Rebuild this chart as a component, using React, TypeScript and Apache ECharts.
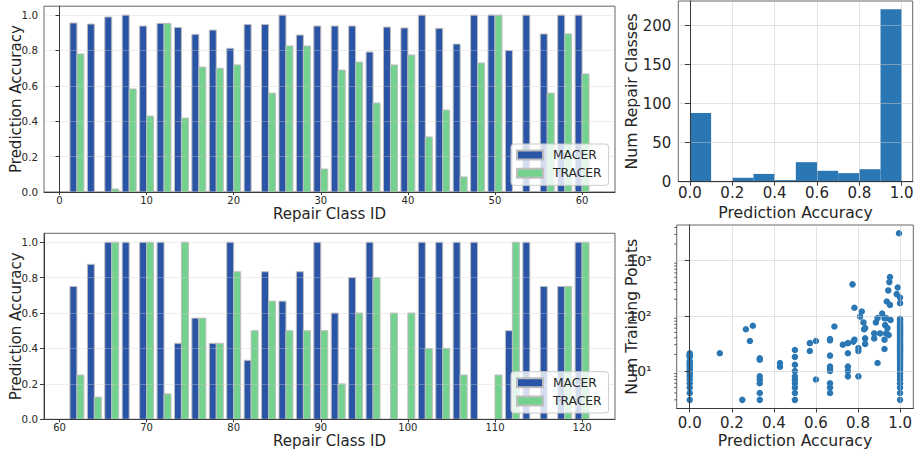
import React, { useEffect, useRef } from 'react';
import * as echarts from 'echarts';

// ---------- data ----------
const topClassIds = [2, 4, 6, 8, 10, 12, 14, 16, 18, 20, 22, 24, 26, 28, 30, 32, 34, 36, 38, 40, 42, 44, 46, 48, 50, 52, 54, 56, 58, 60];
const topMacer = [0.955, 0.949, 0.989, 1.0, 0.938, 0.953, 0.93, 0.891, 0.915, 0.812, 0.947, 0.947, 1.0, 0.887, 0.938, 0.938, 0.938, 0.791, 0.932, 0.927, 1.0, 0.925, 0.836, 1.0, 1.0, 0.8, 1.0, 0.893, 1.0, 1.0];
const topTracer = [0.78, 0, 0.017, 0.582, 0.429, 0.953, 0.418, 0.706, 0.699, 0.718, 0, 0.559, 0.825, 0.825, 0.13, 0.689, 0.734, 0.503, 0.718, 0.774, 0.311, 0.463, 0.085, 0.729, 1.0, 0, 0, 0.559, 0.893, 0.667];

const bottomClassIds = [62, 64, 66, 68, 70, 72, 74, 76, 78, 80, 82, 84, 86, 88, 90, 92, 94, 96, 98, 100, 102, 104, 106, 108, 110, 112, 114, 116, 118, 120];
const bottomMacer = [0.75, 0.875, 1, 1, 1, 1, 0.429, 0.571, 0.429, 1, 0.333, 0.833, 0.667, 0.833, 1, 0.6, 0.8, 1, 0, 0, 1, 1, 1, 1, 0, 0.5, 1, 0.75, 0.75, 1];
const bottomTracer = [0.25, 0.125, 1, 0, 1, 0.143, 1, 0.571, 0.429, 0.833, 0.5, 0.667, 0.5, 0.5, 0.5, 0.2, 0.6, 0.8, 0.6, 0.6, 0.4, 0.4, 0.25, 0, 0.25, 1, 0, 0, 0.75, 1];

const topXTicks = [0, 10, 20, 30, 40, 50, 60];
const bottomXTicks = [60, 70, 80, 90, 100, 110, 120];
const accTicks = [0, 0.2, 0.4, 0.6, 0.8, 1.0];
const countTicks = [0, 50, 100, 150, 200];
const logTicks = [10, 100, 1000];
const minorLogTicks = [3, 4, 5, 6, 7, 8, 9, 20, 30, 40, 50, 60, 70, 80, 90, 200, 300, 400, 500, 600, 700, 800, 900, 2000, 3000, 4000];

const histBinLo = [0, 0.1, 0.2, 0.3, 0.4, 0.5, 0.6, 0.7, 0.8, 0.9];
const histBinHi = [0.1, 0.2, 0.3, 0.4, 0.5, 0.6, 0.7, 0.8, 0.9, 1.0];
const histCounts = [88, 1, 5, 10, 2, 25, 14, 11, 16, 221];

const scatterZero = [3, 4, 5, 6, 7, 8, 9, 10, 11, 12, 13, 14, 15, 18, 19, 20, 21];
const scatterOne = [3, 4, 5, 6, 7, 8, 9, 10, 11, 12, 13, 14, 15, 16, 17, 18, 19, 20, 21, 22, 23, 24, 25, 26, 27, 28, 29, 30, 32, 34, 36, 38, 40, 42, 44, 46, 48, 50, 52, 55, 58, 60, 63, 66, 70, 75, 80, 85, 88, 170, 215];
const scatterMid: [number, number][] = [
  [0.143, 21], [0.25, 3], [0.267, 57], [0.286, 35], [0.3, 66],
  [0.333, 3], [0.333, 4], [0.333, 6], [0.333, 7], [0.333, 8], [0.333, 16], [0.333, 17],
  [0.429, 12], [0.429, 14],
  [0.5, 3], [0.5, 4], [0.5, 5], [0.5, 6], [0.5, 7], [0.5, 8], [0.5, 10], [0.5, 13], [0.5, 18], [0.5, 24],
  [0.571, 23], [0.571, 32], [0.6, 7], [0.6, 35],
  [0.667, 4], [0.667, 5], [0.667, 6], [0.667, 10], [0.667, 11], [0.667, 12], [0.667, 19], [0.667, 36], [0.667, 38],
  [0.688, 64], [0.728, 30],
  [0.752, 8], [0.752, 10], [0.752, 12], [0.752, 21], [0.752, 32],
  [0.774, 372], [0.778, 34], [0.783, 37], [0.783, 140],
  [0.802, 8], [0.802, 23], [0.802, 26], [0.81, 97], [0.818, 120], [0.826, 76], [0.829, 57],
  [0.834, 31], [0.834, 39], [0.834, 60],
  [0.877, 39], [0.877, 48], [0.885, 76], [0.893, 14], [0.893, 91], [0.905, 48], [0.915, 110],
  [0.926, 25], [0.926, 37], [0.926, 91], [0.929, 68], [0.934, 48], [0.934, 91], [0.937, 182],
  [0.94, 60], [0.944, 289], [0.946, 45], [0.949, 409], [0.952, 158], [0.952, 505], [0.955, 84],
  [0.984, 248], [0.989, 327], [0.995, 3140],
];

// ---------- styles ----------
const FONT = 'DejaVu Sans';
const TXT = '#262626';
const SPINE = '#3a3a3a';
const BORDER = '#666666';
const BLUE = '#2a54a6';
const GREEN = '#74d28f';
const EDGE = '#bdbdbd';
const HIST = '#2a77b4';
const GRID_L = 'rgba(205,205,205,0.35)';
const GRID_R = 'rgba(200,200,200,0.5)';
const BAR_W = 0.8;

const barItem = (side: number, fill: string) => (_p: any, api: any) => {
  const x = api.value(0);
  const v = api.value(1);
  if (!v) return { type: 'group', children: [] };
  const x0 = side < 0 ? x - BAR_W : x;
  const x1 = side < 0 ? x : x + BAR_W;
  const a = api.coord([x0, v]);
  const b = api.coord([x1, 0]);
  return {
    type: 'rect',
    shape: { x: a[0], y: a[1], width: b[0] - a[0], height: b[1] - a[1] },
    style: { fill, stroke: EDGE, lineWidth: 1 },
  };
};

const histItem = (_p: any, api: any) => {
  const a = api.coord([api.value(0), api.value(2)]);
  const b = api.coord([api.value(1), 0]);
  return {
    type: 'rect',
    shape: { x: a[0], y: a[1], width: b[0] - a[0], height: b[1] - a[1] },
    style: { fill: HIST },
  };
};

const SCATTER_XMIN = -0.062;
const minorTickItem = (_p: any, api: any) => {
  const p = api.coord([SCATTER_XMIN, api.value(1)]);
  return {
    type: 'line',
    shape: { x1: p[0] - 2.5, y1: p[1], x2: p[0], y2: p[1] },
    style: { stroke: SPINE, lineWidth: 0.8 },
  };
};

const supers: Record<string, string> = { '1': '¹', '2': '²', '3': '³' };

function leftX(grid: number, min: number, max: number, ticks: number[]) {
  return {
    type: 'value', gridIndex: grid, min, max, z: 5,
    axisLine: { show: true, onZero: false, lineStyle: { color: SPINE, width: 1 } },
    axisTick: { show: true, length: 3, customValues: ticks, lineStyle: { color: SPINE } },
    axisLabel: { customValues: ticks, fontSize: 10, lineHeight: 10, color: TXT, fontFamily: FONT, margin: 3.5 },
    splitLine: { show: false },
    name: 'Repair Class ID', nameLocation: 'middle', nameGap: 14.5, nameMoveOverlap: false,
    nameTextStyle: { fontSize: 15, lineHeight: 15, color: TXT, fontFamily: FONT },
  };
}

function leftY(grid: number) {
  return {
    type: 'value', gridIndex: grid, min: 0, max: 1.05, z: 5,
    axisLine: { show: true, lineStyle: { color: SPINE, width: 1 } },
    axisTick: { show: true, length: 4, customValues: accTicks, lineStyle: { color: SPINE } },
    axisLabel: { customValues: accTicks, formatter: (v: number) => v.toFixed(1), fontSize: 10.3, color: TXT, fontFamily: FONT, margin: 6 },
    splitLine: { show: true, lineStyle: { color: GRID_L, width: 1 } },
    name: 'Prediction Accuracy', nameLocation: 'middle', nameRotate: 90, nameGap: 21, nameMoveOverlap: false,
    nameTextStyle: { fontSize: 15, color: TXT, fontFamily: FONT },
  };
}

function accX(grid: number, min: number, max: number, margin: number, nameGap: number) {
  return {
    type: 'value', gridIndex: grid, min, max, z: 5,
    axisLine: { show: true, onZero: false, lineStyle: { color: SPINE, width: 1 } },
    axisTick: { show: true, length: 4, customValues: accTicks, lineStyle: { color: SPINE } },
    axisLabel: { customValues: accTicks, formatter: (v: number) => v.toFixed(1), fontSize: 15, color: TXT, fontFamily: FONT, margin },
    splitLine: { show: true, lineStyle: { color: GRID_R, width: 1 } },
    name: 'Prediction Accuracy', nameLocation: 'middle', nameGap, nameMoveOverlap: false,
    nameTextStyle: { fontSize: 15.7, color: TXT, fontFamily: FONT },
  };
}

function legendFor(top: number) {
  return {
    data: ['MACER', 'TRACER'], orient: 'vertical', left: 511, top,
    icon: 'rect', itemWidth: 26, itemHeight: 9, itemGap: 4.3,
    padding: [4, 7, 5, 5], selectedMode: false, z: 10,
    backgroundColor: 'rgba(255,255,255,0.8)', borderColor: '#cccccc', borderWidth: 1, borderRadius: 3,
    textStyle: { fontSize: 12.3, color: TXT, fontFamily: FONT, lineHeight: 14, padding: [0, 0, 0, 5] },
  };
}

export default function App() {
  const ref = useRef<HTMLDivElement>(null);
  useEffect(() => {
    if (!ref.current) return;
    const chart = echarts.init(ref.current, undefined, { renderer: 'svg' });
    const zip = (a: number[], b: number[]) => a.map((x, i) => [x, b[i]]);
    const scatterData = [
      ...scatterZero.map((c) => [0, c]),
      ...scatterMid,
      ...scatterOne.map((c) => [1, c]),
    ];
    chart.setOption({
      animation: false,
      textStyle: { fontFamily: FONT },
      grid: [
        { left: 42.3, top: 6.2, width: 572.7, height: 185.8, show: true, borderColor: BORDER, borderWidth: 1 },
        { left: 42.3, top: 233.3, width: 572.7, height: 186, show: true, borderColor: BORDER, borderWidth: 1 },
        { left: 678.3, top: 1, width: 234.4, height: 180.7, show: true, borderColor: BORDER, borderWidth: 1 },
        { left: 676.7, top: 225, width: 236.6, height: 183.5, show: true, borderColor: BORDER, borderWidth: 1 },
      ],
      xAxis: [
        leftX(0, -1.78, 63.78, topXTicks),
        leftX(1, 58.22, 123.78, bottomXTicks),
        accX(2, -0.055, 1.052, 4, 23),
        accX(3, SCATTER_XMIN, 1.063, 6.5, 23.6),
      ],
      yAxis: [
        leftY(0),
        leftY(1),
        {
          type: 'value', gridIndex: 2, min: 0, max: 231.7, interval: 50, z: 5,
          axisLine: { show: true, lineStyle: { color: SPINE, width: 1 } },
          axisTick: { show: true, length: 5, customValues: countTicks, lineStyle: { color: SPINE } },
          axisLabel: { customValues: countTicks, fontSize: 15, color: TXT, fontFamily: FONT, margin: 7 },
          splitLine: { show: true, lineStyle: { color: GRID_R, width: 1 } },
          name: 'Num Repair Classes', nameLocation: 'middle', nameRotate: 90, nameGap: 38.7, nameMoveOverlap: false,
          nameTextStyle: { fontSize: 15.7, color: TXT, fontFamily: FONT },
        },
        {
          type: 'log', logBase: 10, gridIndex: 3, min: 2.09, max: 4436, z: 5,
          axisLine: { show: true, lineStyle: { color: SPINE, width: 1 } },
          axisTick: { show: true, length: 5, customValues: logTicks, lineStyle: { color: SPINE } },
          axisLabel: {
            customValues: logTicks, fontSize: 14, color: TXT, fontFamily: FONT, margin: 25,
            formatter: (v: number) => {
              const e = Math.round(Math.log10(v));
              return '10' + (supers[String(e)] || '');
            },
          },
          splitLine: { show: true, lineStyle: { color: GRID_R, width: 1 } },
          name: 'Num Training Points', nameLocation: 'middle', nameRotate: 90, nameGap: 37, nameMoveOverlap: false,
          nameTextStyle: { fontSize: 15.7, color: TXT, fontFamily: FONT },
        },
      ],
      legend: [legendFor(144), legendFor(371.7)],
      series: [
        {
          name: 'MACER', type: 'custom', xAxisIndex: 0, yAxisIndex: 0, data: zip(topClassIds, topMacer),
          renderItem: barItem(-1, BLUE), encode: { x: 0, y: 1 },
          itemStyle: { color: BLUE, borderColor: EDGE, borderWidth: 1 },
        },
        {
          name: 'TRACER', type: 'custom', xAxisIndex: 0, yAxisIndex: 0, data: zip(topClassIds, topTracer),
          renderItem: barItem(1, GREEN), encode: { x: 0, y: 1 },
          itemStyle: { color: GREEN, borderColor: EDGE, borderWidth: 1 },
        },
        {
          name: 'MACER', type: 'custom', xAxisIndex: 1, yAxisIndex: 1, data: zip(bottomClassIds, bottomMacer),
          renderItem: barItem(-1, BLUE), encode: { x: 0, y: 1 },
          itemStyle: { color: BLUE, borderColor: EDGE, borderWidth: 1 },
        },
        {
          name: 'TRACER', type: 'custom', xAxisIndex: 1, yAxisIndex: 1, data: zip(bottomClassIds, bottomTracer),
          renderItem: barItem(1, GREEN), encode: { x: 0, y: 1 },
          itemStyle: { color: GREEN, borderColor: EDGE, borderWidth: 1 },
        },
        {
          name: 'hist', type: 'custom', xAxisIndex: 2, yAxisIndex: 2,
          data: histBinLo.map((lo, i) => [lo, histBinHi[i], histCounts[i]]),
          renderItem: histItem, encode: { x: [0, 1], y: 2 },
        },
        {
          name: 'points', type: 'scatter', xAxisIndex: 3, yAxisIndex: 3, data: scatterData,
          symbolSize: 6.5, itemStyle: { color: '#2a77b4', opacity: 1 },
        },
        {
          name: 'minor', type: 'custom', xAxisIndex: 3, yAxisIndex: 3, clip: false,
          data: minorLogTicks.map((v) => [SCATTER_XMIN, v]),
          renderItem: minorTickItem, encode: { x: 0, y: 1 }, z: 6,
        },
      ],
    });
    return () => chart.dispose();
  }, []);
  return <div ref={ref} style={{ position: 'absolute', left: 0, top: 0, width: 920, height: 452 }} />;
}
